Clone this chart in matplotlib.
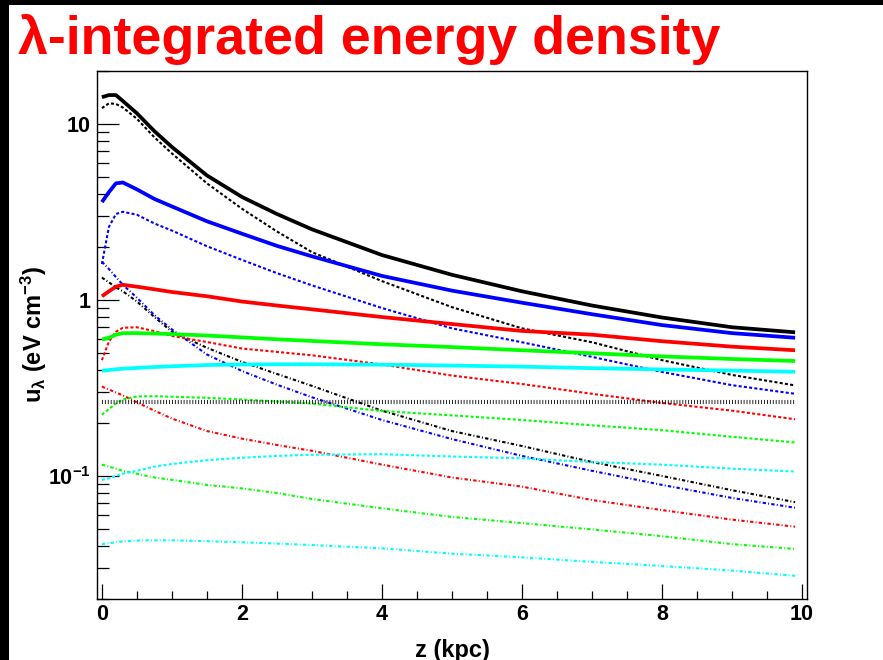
import matplotlib
matplotlib.use('Agg')
import matplotlib.pyplot as plt
from matplotlib.ticker import LogLocator, FixedLocator, MultipleLocator, NullFormatter, FixedFormatter
from matplotlib.patches import Rectangle

plt.rcParams['lines.scale_dashes'] = False
plt.rcParams['font.family'] = ['Liberation Sans', 'DejaVu Sans']
plt.rcParams['mathtext.fontset'] = 'custom'
plt.rcParams['mathtext.rm'] = 'Liberation Sans'
plt.rcParams['mathtext.bf'] = 'Liberation Sans:bold'
plt.rcParams['mathtext.it'] = 'Liberation Sans:italic'
plt.rcParams['mathtext.default'] = 'bf'

# ---- data ----
z = [0, 0.1, 0.2, 0.3, 0.5, 0.75, 1, 1.5, 2, 2.5, 3, 4, 5, 6, 7, 8, 9, 9.9]

black_total = [14.2, 14.6, 14.6, 13.5, 11.5, 9.1, 7.4, 5.1, 3.85, 3.08, 2.52, 1.8, 1.39, 1.12, 0.93, 0.795, 0.70, 0.655]
black_dot   = [12.3, 13.1, 13.0, 12.4, 10.7, 8.4, 6.8, 4.6, 3.3, 2.45, 1.87, 1.28, 0.91, 0.69, 0.575, 0.455, 0.375, 0.327]
black_dd    = [1.34, 1.26, 1.18, 1.12, 0.98, 0.80, 0.66, 0.535, 0.445, 0.38, 0.325, 0.235, 0.18, 0.148, 0.12, 0.10, 0.083, 0.071]

blue_total = [3.6, 4.1, 4.6, 4.65, 4.25, 3.75, 3.4, 2.8, 2.38, 2.03, 1.77, 1.37, 1.13, 0.965, 0.83, 0.72, 0.648, 0.61]
blue_dot   = [1.6, 2.6, 3.08, 3.17, 3.05, 2.72, 2.48, 2.02, 1.69, 1.42, 1.21, 0.90, 0.69, 0.575, 0.475, 0.39, 0.328, 0.293]
blue_dd    = [1.65, 1.50, 1.35, 1.22, 1.03, 0.82, 0.68, 0.49, 0.395, 0.33, 0.28, 0.208, 0.162, 0.13, 0.107, 0.089, 0.075, 0.066]

red_total = [1.05, 1.12, 1.19, 1.22, 1.19, 1.15, 1.11, 1.05, 0.98, 0.93, 0.885, 0.80, 0.73, 0.667, 0.635, 0.583, 0.543, 0.518]
red_dot   = [0.455, 0.58, 0.66, 0.695, 0.70, 0.665, 0.625, 0.577, 0.53, 0.507, 0.485, 0.43, 0.372, 0.333, 0.293, 0.26, 0.235, 0.21]
red_dd    = [0.322, 0.31, 0.298, 0.287, 0.262, 0.235, 0.212, 0.18, 0.163, 0.15, 0.139, 0.116, 0.098, 0.087, 0.073, 0.064, 0.0565, 0.0515]

green_total = [0.596, 0.61, 0.635, 0.648, 0.648, 0.645, 0.64, 0.628, 0.613, 0.598, 0.585, 0.56, 0.54, 0.518, 0.498, 0.478, 0.462, 0.45]
green_dot   = [0.223, 0.24, 0.258, 0.272, 0.283, 0.284, 0.282, 0.278, 0.272, 0.265, 0.258, 0.234, 0.221, 0.208, 0.194, 0.182, 0.167, 0.155]
green_dd    = [0.116, 0.113, 0.11, 0.107, 0.103, 0.098, 0.095, 0.089, 0.085, 0.08, 0.074, 0.0655, 0.0585, 0.054, 0.0497, 0.0455, 0.041, 0.0385]

cyan_total = [0.396, 0.40, 0.404, 0.407, 0.411, 0.416, 0.42, 0.427, 0.43, 0.431, 0.431, 0.429, 0.424, 0.418, 0.41, 0.403, 0.397, 0.391]
cyan_dot   = [0.095, 0.097, 0.10, 0.103, 0.107, 0.113, 0.117, 0.123, 0.127, 0.13, 0.132, 0.133, 0.129, 0.126, 0.12, 0.116, 0.11, 0.106]
cyan_dd    = [0.041, 0.0415, 0.042, 0.0425, 0.043, 0.0431, 0.0431, 0.0426, 0.042, 0.0413, 0.0405, 0.0388, 0.0362, 0.0345, 0.0325, 0.0308, 0.029, 0.0271]

cmb_z = [0, 9.9]
cmb_u = [0.262, 0.262]

x_ticks = [0, 2, 4, 6, 8, 10]
y_ticks = [0.1, 1, 10]
y_tick_labels = [r'$\mathbf{10^{-1}}$', '1', '10']

title = 'λ-integrated energy density'
xlabel = 'z (kpc)'
ylabel = r'u$_{\mathregular{\lambda}}$ (eV cm$^{\mathbf{-3}}$)'

# ---- figure ----
W, H = 883, 660
fig = plt.figure(figsize=(W / 100, H / 100), dpi=100)
fig.patch.set_facecolor('white')
fig.patches.append(Rectangle((0, 1 - 5 / H), 1, 5 / H, transform=fig.transFigure,
                             facecolor='black', edgecolor='none', zorder=0))
fig.patches.append(Rectangle((0, 0), 9 / W, 1, transform=fig.transFigure,
                             facecolor='black', edgecolor='none', zorder=0))

ax = fig.add_axes([97 / W, 1 - 599 / H, 710 / W, 528 / H])

series = [
    ('black', black_total, black_dot, black_dd),
    ('#0000ff', blue_total, blue_dot, blue_dd),
    ('#ff0000', red_total, red_dot, red_dd),
    ('#00ff00', green_total, green_dot, green_dd),
    ('#00ffff', cyan_total, cyan_dot, cyan_dd),
]
dot_style = (0, (2.2, 1.6))
dd_style = (0, (2.4, 1.6, 0.7, 1.6))
for col, tot, dot, dd in series:
    ax.plot(z, dd, color=col, lw=1.5, linestyle=dd_style, dash_capstyle='butt', zorder=2)
    ax.plot(z, dot, color=col, lw=1.5, linestyle=dot_style, dash_capstyle='butt', zorder=2)
ax.plot(cmb_z, cmb_u, color='black', lw=3.0, linestyle=(0, (0.6, 1.5)), dash_capstyle='butt', zorder=2)
for col, tot, dot, dd in series[::-1]:
    ax.plot(z, tot, color=col, lw=2.7, solid_capstyle='butt', solid_joinstyle='round', zorder=3)

ax.set_yscale('log')
ax.set_xlim(-0.07, 10.07)
ax.set_ylim(0.02, 20)

ax.xaxis.set_major_locator(FixedLocator(x_ticks))
ax.xaxis.set_minor_locator(MultipleLocator(0.5))
ax.yaxis.set_major_locator(FixedLocator(y_ticks))
ax.yaxis.set_major_formatter(FixedFormatter(y_tick_labels))
ax.yaxis.set_minor_locator(LogLocator(base=10, subs=[2, 3, 4, 5, 6, 7, 8, 9], numticks=20))
ax.yaxis.set_minor_formatter(NullFormatter())

ax.tick_params(which='both', direction='in', top=False, right=False, width=0.9, color='black')
ax.tick_params(axis='x', which='major', length=10.8, pad=3.5)
ax.tick_params(axis='x', which='minor', length=5.8)
ax.tick_params(axis='y', which='major', length=15.8, pad=4.5)
ax.tick_params(axis='y', which='minor', length=8.6)
for lab in ax.get_xticklabels() + ax.get_yticklabels():
    lab.set_fontsize(15.5)
    lab.set_fontweight('bold')
for s in ax.spines.values():
    s.set_linewidth(1.0)

fig.text(18 / W, 1 - 54 / H, title, color='#ff0000', fontsize=38.7, fontweight='bold',
         ha='left', va='baseline')
fig.text(452 / W, 1 - 650 / H, xlabel, fontsize=17, fontweight='bold', ha='center', va='center')
fig.text(34 / W, 1 - 334 / H, ylabel, fontsize=17, fontweight='bold', rotation=90,
         ha='center', va='center')

fig.savefig('out.png', dpi=100, facecolor='white')
